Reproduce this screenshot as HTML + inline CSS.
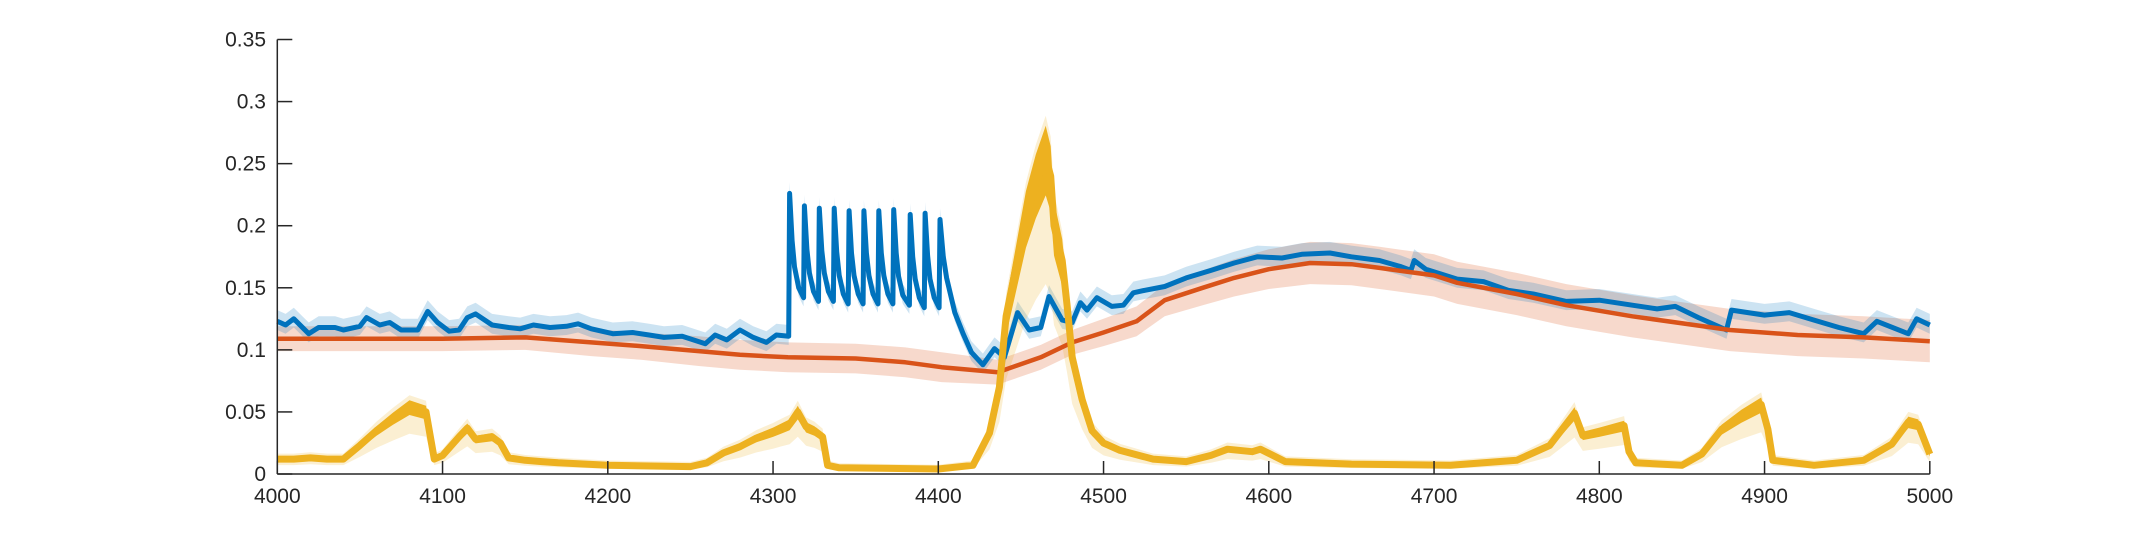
<!DOCTYPE html>
<html><head><meta charset="utf-8">
<style>
html,body{margin:0;padding:0;background:#fff;}
svg text{font-family:"Liberation Sans",sans-serif;font-size:21px;fill:#262626;}
</style></head>
<body>
<svg id="chart" width="2133" height="533" viewBox="0 0 2133 533" xmlns="http://www.w3.org/2000/svg">
<g id="bands"></g>
<g id="lines"></g>
<g id="axes"></g>
</svg>
<script>
const xTicks = [4000,4100,4200,4300,4400,4500,4600,4700,4800,4900,5000];
const yTicks = [0,0.05,0.1,0.15,0.2,0.25,0.3,0.35];
const yTickLabels = ["0","0.05","0.1","0.15","0.2","0.25","0.3","0.35"];

const blueX = [4000,4005,4010,4019,4025,4035,4040,4050,4054,4062,4068,4075,4085,4091,4097,4104,4110,4115,4120,4130,4140,4147,4155,4165,4175,4182,4190,4203,4215,4225,4234,4245,4259,4265,4272,4280,4288,4296,4302,4309.5,
4310,4311.5,4313,4315.5,4318.5,
4319,4320.5,4322,4324.5,4327.5,
4328,4329.5,4331,4333.5,4336.5,
4337,4338.5,4340,4342.5,4345.5,
4346,4347.5,4349,4351.5,4354.5,
4355,4356.5,4358,4360.5,4363.5,
4364,4365.5,4367,4369.5,4372.5,
4373,4374.5,4376,4378.5,4382.5,
4383,4384.5,4386,4388.5,4391.5,
4392,4393.5,4395,4397.5,4400.5,
4401,4403,4405,4410,4415,4420,4427,4434,4440,4448,4455,4462,4467,4475,4481,4486,4490,4496,4505,4512,4518,4525,4537,4550,4565,4579,4593,4608,4620,4637,4650,4667,4680,4686,4688,4695,4714,4730,4745,4760,4780,4800,4820,4835,4846,4860,4877,4880,4900,4915,4930,4945,4960,4968,4987,4992,5000];
const blueY = [0.123,0.120,0.125,0.113,0.118,0.118,0.116,0.119,0.126,0.120,0.122,0.116,0.116,0.131,0.122,0.115,0.116,0.126,0.129,0.120,0.118,0.117,0.120,0.118,0.119,0.121,0.117,0.113,0.114,0.112,0.110,0.111,0.105,0.112,0.108,0.116,0.110,0.106,0.112,0.111,
0.226,0.188,0.167,0.150,0.142,
0.216,0.181,0.162,0.147,0.139,
0.214,0.180,0.162,0.147,0.139,
0.214,0.179,0.160,0.145,0.137,
0.212,0.178,0.160,0.145,0.137,
0.212,0.178,0.160,0.145,0.137,
0.212,0.178,0.160,0.145,0.137,
0.213,0.178,0.159,0.144,0.136,
0.209,0.175,0.157,0.142,0.134,
0.210,0.176,0.157,0.142,0.134,
0.205,0.175,0.158,0.130,0.113,0.098,0.088,0.101,0.094,0.130,0.116,0.118,0.143,0.124,0.122,0.138,0.132,0.142,0.135,0.136,0.146,0.148,0.151,0.158,0.164,0.170,0.175,0.174,0.177,0.178,0.175,0.172,0.167,0.164,0.172,0.165,0.157,0.155,0.148,0.145,0.139,0.140,0.136,0.133,0.135,0.126,0.116,0.132,0.128,0.130,0.124,0.118,0.113,0.123,0.113,0.125,0.120];

const orangeX = [4000,4050,4100,4150,4190,4220,4255,4280,4309,4350,4380,4402,4436,4462,4481,4500,4520,4537,4560,4579,4600,4625,4650,4667,4700,4714,4750,4780,4820,4879,4920,4960,5000];
const orangeY = [0.109,0.109,0.109,0.110,0.106,0.103,0.099,0.096,0.094,0.093,0.090,0.086,0.082,0.094,0.106,0.114,0.123,0.140,0.150,0.158,0.165,0.170,0.169,0.166,0.160,0.154,0.145,0.136,0.127,0.116,0.112,0.110,0.107];
const orangeSpread = [0.010,0.010,0.010,0.010,0.011,0.011,0.012,0.012,0.012,0.012,0.012,0.012,0.010,0.010,0.010,0.011,0.012,0.013,0.014,0.015,0.016,0.017,0.017,0.017,0.017,0.017,0.017,0.017,0.017,0.017,0.017,0.017,0.017];

const yellowX = [4000,4010,4020,4030,4040,4050,4060,4070,4080,4090,4095,4100,4110,4115,4120,4130,4135,4140,4150,4160,4170,4200,4250,4260,4270,4280,4290,4300,4305,4310,4315,4320,4325,4330,4333,4340,4400,4421,4431,4437,4441,4447,4453,4459,4465,4468,4470,4475,4478,4481,4487,4493,4500,4510,4530,4550,4565,4575,4590,4595,4610,4650,4710,4750,4770,4785,4790,4800,4815,4818,4822,4850,4862,4874,4886,4898,4902,4905,4930,4960,4977,4987,4993,5000];
const yellowY = [0.012,0.012,0.013,0.012,0.012,0.023,0.035,0.045,0.054,0.050,0.012,0.015,0.030,0.037,0.028,0.030,0.025,0.013,0.011,0.010,0.009,0.007,0.006,0.009,0.017,0.022,0.029,0.034,0.037,0.040,0.050,0.038,0.035,0.030,0.007,0.005,0.004,0.007,0.033,0.070,0.127,0.167,0.207,0.234,0.255,0.240,0.200,0.172,0.135,0.094,0.060,0.035,0.025,0.019,0.012,0.010,0.015,0.020,0.018,0.020,0.010,0.008,0.007,0.011,0.023,0.049,0.031,0.034,0.039,0.018,0.009,0.007,0.016,0.036,0.047,0.056,0.036,0.011,0.007,0.011,0.024,0.042,0.040,0.016];

const X0 = 277.3, PXX = 1.6525, Y0 = 474, PXY = 1241.4;
const sx = v => X0 + (v - 4000) * PXX;
const sy = v => Y0 - v * PXY;
const NS = "http://www.w3.org/2000/svg";
const bands = document.getElementById('bands');
const lines = document.getElementById('lines');
const axes = document.getElementById('axes');

function mk(tag, attrs, parent){
  const e = document.createElementNS(NS, tag);
  for (const k in attrs) e.setAttribute(k, attrs[k]);
  parent.appendChild(e);
  return e;
}
function linePath(xs, ys){
  return xs.map((x,i)=>(i?'L':'M')+sx(x).toFixed(1)+','+sy(ys[i]).toFixed(1)).join('');
}
function bandPath(xs, lo, hi){
  let d = xs.map((x,i)=>(i?'L':'M')+sx(x).toFixed(1)+','+sy(hi[i]).toFixed(1)).join('');
  for (let i=xs.length-1;i>=0;i--) d += 'L'+sx(xs[i]).toFixed(1)+','+sy(lo[i]).toFixed(1);
  return d+'Z';
}

const ob = mk('path',{d:bandPath(orangeX, orangeY.map((v,i)=>v-orangeSpread[i]), orangeY.map((v,i)=>v+orangeSpread[i])), fill:'rgba(217,83,25,0.22)'}, bands);


const bb = mk('path',{d:bandPath(blueX, blueY.map(v=>v-0.007), blueY.map(v=>v+0.009)), fill:'rgba(0,114,189,0.2)'}, bands);


const yb = mk('path',{d:bandPath(yellowX, yellowY.map(v=>v*0.6), yellowY.map(v=>v*1.12+0.003)), fill:'rgba(237,177,32,0.2)'}, bands);



const bl = mk('path',{d:linePath(blueX, blueY), fill:'none', stroke:'#0072BD', 'stroke-width':5, 'stroke-linejoin':'round'}, lines);


const ol = mk('path',{d:linePath(orangeX, orangeY), fill:'none', stroke:'#D95319', 'stroke-width':4.5, 'stroke-linejoin':'round'}, lines);


const yn = mk('path',{d:bandPath(yellowX, yellowY.map(v=>v*0.88), yellowY.map(v=>v*1.1)), fill:'#EDB120'}, lines);


const yt = mk('path',{d:linePath(yellowX, yellowY), fill:'none', stroke:'#EDB120', 'stroke-width':7, 'stroke-linejoin':'round'}, lines);



const ya = mk('line',{x1:X0,y1:sy(0.35),x2:X0,y2:Y0,stroke:'#262626','stroke-width':1.5}, axes);


const xa = mk('line',{x1:X0,y1:Y0,x2:sx(5000),y2:Y0,stroke:'#262626','stroke-width':1.5}, axes);


xTicks.forEach(t=>{
  const l = mk('line',{x1:sx(t),y1:Y0,x2:sx(t),y2:Y0-13,stroke:'#262626','stroke-width':1.5}, axes);
  
  
  const tx = mk('text',{x:sx(t),y:503,'text-anchor':'middle'}, axes);
  tx.textContent = String(t);
  
  
});
yTicks.forEach((t,i)=>{
  const l = mk('line',{x1:X0,y1:sy(t),x2:X0+15,y2:sy(t),stroke:'#262626','stroke-width':1.5}, axes);
  
  
  const tx = mk('text',{x:266,y:sy(t)+7,'text-anchor':'end'}, axes);
  tx.textContent = yTickLabels[i];
  
  
});
</script>
</body></html>
